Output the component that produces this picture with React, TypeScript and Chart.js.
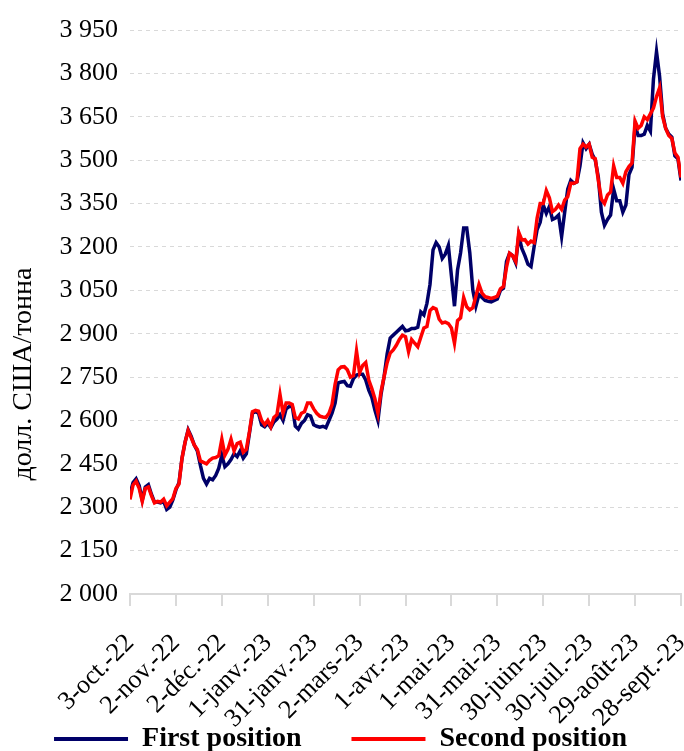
import React, { useEffect, useRef } from 'react';
import { Chart, registerables } from 'chart.js';

Chart.register(...registerables);

const xTickLabels = [
  '3-oct.-22', '2-nov.-22', '2-déc.-22', '1-janv.-23', '31-janv.-23', '2-mars-23',
  '1-avr.-23', '1-mai-23', '31-mai-23', '30-juin-23', '30-juil.-23', '29-août-23', '28-sept.-23',
];

const yTicks = [2000, 2150, 2300, 2450, 2600, 2750, 2900, 3050, 3200, 3350, 3500, 3650, 3800, 3950];

const seriesNames = ['First position', 'Second position'];
const seriesColors = ['#000068', '#ff0000'];
const yAxisTitle = 'долл. США/тонна';

// values every 2 days starting 3-oct-22
const firstPosition = [
  2345, 2385, 2398, 2375, 2325, 2370, 2378, 2345, 2318, 2318,
  2315, 2320, 2292, 2300, 2325, 2360, 2385, 2470, 2525, 2568,
  2545, 2515, 2495, 2445, 2400, 2380, 2400, 2395, 2410, 2435,
  2480, 2440, 2450, 2465, 2485, 2475, 2495, 2470, 2485, 2555,
  2625, 2630, 2625, 2585, 2578, 2590, 2575, 2595, 2605, 2620,
  2600, 2640, 2648, 2650, 2580, 2570, 2590, 2600, 2620, 2615,
  2585, 2580, 2577, 2580, 2575, 2600, 2625, 2660, 2730, 2733,
  2735, 2720, 2718, 2745, 2757, 2760, 2760, 2740, 2705, 2680,
  2636, 2600, 2690, 2751, 2830, 2885, 2895, 2905, 2915, 2925,
  2910, 2912, 2918, 2918, 2922, 2975, 2965, 3005, 3070, 3190,
  3215, 3200, 3160, 3175, 3205, 3100, 2995, 3120, 3180, 3265,
  3265, 3180, 3050, 2995, 3035, 3025, 3015, 3012, 3010, 3015,
  3020, 3050, 3057, 3150, 3178, 3170, 3145, 3240, 3195, 3170,
  3140, 3132, 3200, 3260, 3285, 3345, 3316, 3340, 3295, 3300,
  3310, 3236, 3320, 3400, 3430, 3420, 3425, 3480, 3560, 3540,
  3555, 3520, 3500, 3440, 3320, 3275, 3295, 3310, 3400, 3360,
  3360, 3320, 3345, 3450, 3475, 3620, 3585, 3585, 3590, 3620,
  3600, 3780, 3875, 3790, 3660, 3610, 3590, 3580, 3515, 3505,
  3430,
];

const secondPosition = [
  2327, 2377, 2390, 2365, 2320, 2365, 2370, 2340, 2315, 2320,
  2318, 2328, 2305, 2318, 2330, 2365, 2380, 2470, 2525, 2565,
  2540, 2515, 2500, 2460, 2455, 2450, 2462, 2470, 2472, 2478,
  2535, 2480, 2500, 2535, 2495, 2520, 2525, 2490, 2500, 2560,
  2630, 2635, 2632, 2600, 2585, 2600, 2578, 2610, 2620, 2690,
  2625, 2660, 2660, 2655, 2610, 2605, 2625, 2630, 2660, 2660,
  2640, 2625, 2615, 2612, 2610, 2625, 2655, 2725, 2775, 2785,
  2786, 2775, 2750, 2755, 2840, 2765, 2790, 2800, 2740, 2710,
  2675, 2625, 2700, 2751, 2800, 2833, 2844, 2860, 2880, 2895,
  2890, 2838, 2880, 2867, 2855, 2888, 2920, 2925, 2980, 2990,
  2985, 2950, 2937, 2940, 2935, 2920, 2867, 2945, 2955, 3025,
  2993, 2982, 2990, 3030, 3070, 3040, 3028, 3025, 3022, 3025,
  3030, 3055, 3063, 3130, 3178, 3170, 3150, 3250, 3224, 3225,
  3210, 3220, 3215, 3300, 3350, 3350, 3395, 3370, 3322, 3330,
  3345, 3330, 3362, 3374, 3420, 3420, 3425, 3540, 3555, 3545,
  3555, 3510, 3505, 3430, 3365, 3350, 3380, 3390, 3480, 3440,
  3440, 3420, 3460, 3478, 3490, 3635, 3610, 3620, 3650, 3640,
  3660, 3680, 3720, 3750, 3650, 3610, 3585, 3575, 3525, 3510,
  3440,
];

const fmt = (v: number) => {
  const s = String(Math.round(v));
  return s.length > 3 ? s.slice(0, s.length - 3) + ' ' + s.slice(s.length - 3) : s;
};

export default function App() {
  const ref = useRef<HTMLCanvasElement>(null);

  useEffect(() => {
    document.body.style.margin = '0';
    const canvas = ref.current!;
    const toPoints = (arr: number[]) => arr.map((v, i) => ({ x: i, y: v }));

    const layoutPlugin = {
      id: 'layoutTweaks',
      afterLayout(chart: any) {
        const lg = chart.legend;
        if (lg) {
          lg.top = 675;
          lg.bottom = 751;
          lg.height = 76;
        }
      },
      afterDraw(chart: any) {
        const c = chart.ctx;
        c.save();
        c.translate(24, 374);
        c.rotate(-Math.PI / 2);
        c.font = '28px "Liberation Serif"';
        c.fillStyle = '#000';
        c.textAlign = 'center';
        c.textBaseline = 'middle';
        c.fillText(yAxisTitle, 0, 0);
        c.restore();
      },
    };

    const chart = new Chart(canvas, {
      type: 'line',
      data: {
        datasets: [
          {
            label: seriesNames[0],
            data: toPoints(firstPosition),
            borderColor: seriesColors[0],
            backgroundColor: seriesColors[0],
            borderWidth: 3.5,
            pointRadius: 0,
            tension: 0,
            order: 1,
          },
          {
            label: seriesNames[1],
            data: toPoints(secondPosition),
            borderColor: seriesColors[1],
            backgroundColor: seriesColors[1],
            borderWidth: 3.5,
            pointRadius: 0,
            tension: 0,
            order: 0,
          },
        ],
      },
      options: {
        animation: false,
        responsive: false,
        layout: { padding: { left: 0, right: 3, top: 30, bottom: 0 } },
        scales: {
          x: {
            type: 'linear',
            min: 0,
            max: 180,
            afterBuildTicks: (s: any) => {
              s.ticks = xTickLabels.map((_, k) => ({ value: k * 15 }));
            },
            afterFit: (s: any) => {
              s.height = 135;
              s.paddingLeft = 0;
              s.paddingRight = 0;
            },
            ticks: {
              autoSkip: false,
              maxRotation: 45,
              minRotation: 45,
              padding: 22,
              color: '#000',
              font: { family: 'Liberation Serif', size: 26 },
              callback: (v: any) => xTickLabels[Math.round(Number(v) / 15)],
            },
            grid: {
              drawOnChartArea: false,
              drawTicks: true,
              tickLength: 12,
              color: '#d9d9d9',
              lineWidth: 2,
            },
            border: { color: '#d9d9d9', width: 2 },
          },
          y: {
            type: 'linear',
            min: 2000,
            max: 3950,
            afterBuildTicks: (s: any) => {
              s.ticks = yTicks.map((v) => ({ value: v }));
            },
            afterFit: (s: any) => {
              s.width = 130;
            },
            ticks: {
              autoSkip: false,
              padding: 12,
              color: '#000',
              font: { family: 'Liberation Serif', size: 26 },
              callback: (v: any) => fmt(Number(v)),
            },
            grid: { color: '#d9d9d9', drawTicks: false, lineWidth: 1 },
            border: { display: false, dash: [4, 4] },
          },
        },
        plugins: {
          tooltip: { enabled: false },
          legend: {
            position: 'bottom',
            maxHeight: 22,
            labels: {
              color: '#000',
              font: { family: 'Liberation Serif', size: 28, weight: 'bold' },
              boxWidth: 74,
              boxHeight: 4,
              padding: 50,
              generateLabels: () =>
                seriesNames.map((n, k) => ({
                  text: n,
                  fillStyle: seriesColors[k],
                  strokeStyle: seriesColors[k],
                  lineWidth: 0,
                  hidden: false,
                  datasetIndex: k,
                  fontColor: '#000',
                })),
            },
          },
        },
      } as any,
      plugins: [layoutPlugin],
    });

    return () => chart.destroy();
  }, []);

  return <canvas ref={ref} width={684} height={751} style={{ display: 'block' }} />;
}
